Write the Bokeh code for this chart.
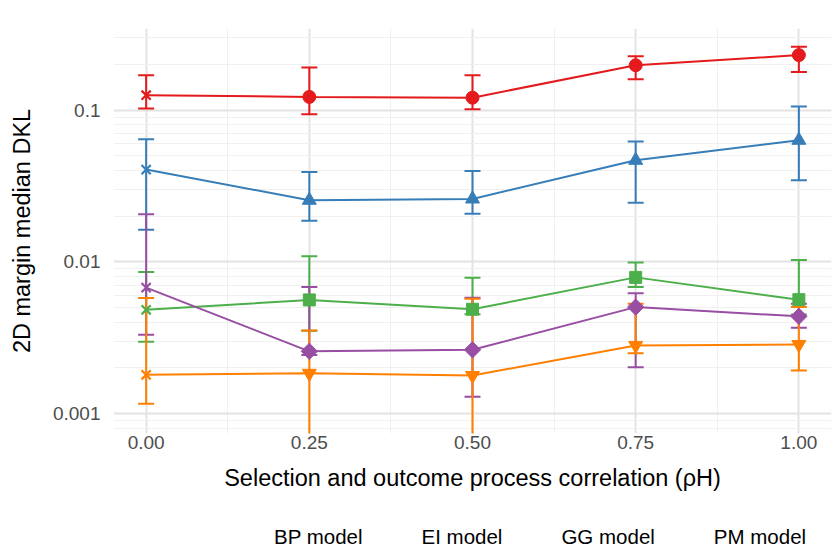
import math
from bokeh.plotting import figure
from bokeh.layouts import column
from bokeh.models import Range1d, FixedTicker, Legend, LegendItem, ColumnDataSource
from bokeh.embed import file_html
from bokeh.resources import INLINE

# ---------------- data ----------------
rho = [0.00, 0.25, 0.50, 0.75, 1.00]
x_tick_labels = ["0.00", "0.25", "0.50", "0.75", "1.00"]
y_ticks = [0.001, 0.01, 0.1]
y_tick_labels = ["0.001", "0.01", "0.1"]

series_names = ["BP model", "EI model", "GG model", "PM model", "FS model"]

bp_med = [0.1256, 0.1224, 0.1210, 0.198, 0.231]
bp_lo = [0.1026, 0.0940, 0.1015, 0.160, 0.179]
bp_hi = [0.170, 0.191, 0.170, 0.227, 0.262]

ei_med = [0.0406, 0.0255, 0.0260, 0.0468, 0.0634]
ei_lo = [0.0163, 0.0187, 0.0208, 0.0245, 0.0345]
ei_hi = [0.0644, 0.0392, 0.0398, 0.0621, 0.106]

gg_med = [0.00483, 0.00561, 0.00487, 0.00790, 0.00563]
gg_lo = [0.00297, 0.00351, 0.00452, 0.00682, 0.00450]
gg_hi = [0.00857, 0.01090, 0.00787, 0.00990, 0.01030]

pm_med = [0.00676, 0.00257, 0.00263, 0.00503, 0.00437]
pm_lo = [0.00331, 0.00243, 0.00129, 0.00202, 0.00368]
pm_hi = [0.0206, 0.00682, 0.00580, 0.00620, 0.00530]

fs_med = [0.00180, 0.00184, 0.00178, 0.00281, 0.00285]
fs_lo = [0.00116, 0.0005, 0.0005, 0.00250, 0.00192]  # 0.25/0.50 run below the visible range
fs_hi = [0.00577, 0.00353, 0.00572, 0.00530, 0.00503]

medians = [bp_med, ei_med, gg_med, pm_med, fs_med]
lowers = [bp_lo, ei_lo, gg_lo, pm_lo, fs_lo]
uppers = [bp_hi, ei_hi, gg_hi, pm_hi, fs_hi]

colors = ["#E41A1C", "#377EB8", "#4DAF4A", "#984EA3", "#FF7F00"]
markers = ["circle", "triangle", "square", "square", "inverted_triangle"]
marker_sizes = [13, 14, 12, 11.5, 14]
marker_angles = [0, 0, 0, math.pi / 4, 0]

# ---------------- layout ----------------
W = 838
MAIN_H, LEG_H = 505, 45
FONT = "Liberation Sans"
TICK_FS = "19px"
TITLE_FS = "23.5px"
LEG_FS = "20.5px"

p = figure(width=W, height=MAIN_H, x_range=Range1d(-0.05, 1.05),
           y_range=Range1d(10 ** -3.132, 10 ** -0.461), y_axis_type="log",
           output_backend="svg", toolbar_location=None,
           min_border_left=113, min_border_right=7,
           min_border_top=28, min_border_bottom=MAIN_H - 433)
p.outline_line_color = None
p.background_fill_color = "white"

y_minor = [m * 10 ** k for k in range(-4, 0) for m in range(2, 10)]
p.yaxis.ticker = FixedTicker(ticks=y_ticks, minor_ticks=y_minor)
p.xaxis.ticker = FixedTicker(ticks=rho, minor_ticks=[0.125, 0.375, 0.625, 0.875])
p.yaxis.major_label_overrides = {t: l for t, l in zip(y_ticks, y_tick_labels)}
p.xaxis.major_label_overrides = {t: l for t, l in zip(rho, x_tick_labels)}

for ax in (p.xaxis, p.yaxis):
    ax.axis_line_color = None
    ax.major_tick_line_color = None
    ax.minor_tick_line_color = None
    ax.major_tick_out = 0
    ax.minor_tick_out = 0
    ax.major_tick_in = 0
    ax.minor_tick_in = 0
    ax.major_label_text_font = FONT
    ax.major_label_text_font_size = TICK_FS
    ax.major_label_text_color = "#4d4d4d"
    ax.axis_label_text_font = FONT
    ax.axis_label_text_font_size = TITLE_FS
    ax.axis_label_text_font_style = "normal"
    ax.axis_label_text_color = "black"
p.yaxis.major_label_standoff = 13
p.xaxis.major_label_standoff = 2
p.xaxis.axis_label = "Selection and outcome process correlation (ρH)"
p.yaxis.axis_label = "2D margin median DKL"
p.xaxis.axis_label_standoff = 13
p.yaxis.axis_label_standoff = 15

for g in (p.xgrid, p.ygrid):
    g.grid_line_color = "#e3e3e3"
    g.grid_line_width = 2
    g.minor_grid_line_color = "#f0f0f0"
    g.minor_grid_line_width = 1

# ---------------- marks ----------------
for i in range(5):
    src = ColumnDataSource(dict(x=rho, lo=lowers[i], hi=uppers[i]))
    p.segment(x0="x", y0="lo", x1="x", y1="hi", source=src,
              line_color=colors[i], line_width=2)
    p.scatter(x="x", y="lo", source=src, marker="dash", size=16,
              line_color=colors[i], line_width=2)
    p.scatter(x="x", y="hi", source=src, marker="dash", size=16,
              line_color=colors[i], line_width=2)

for i in range(5):
    p.line(rho, medians[i], line_color=colors[i], line_width=2)

for i in range(5):
    p.scatter(rho[1:], medians[i][1:], marker=markers[i], size=marker_sizes[i],
              angle=marker_angles[i], fill_color=colors[i], line_color=colors[i])
    p.scatter(rho[:1], medians[i][:1], marker="x", size=13,
              line_color=colors[i], line_width=2.2)

# ---------------- legend strip below the chart ----------------
q = figure(width=W, height=LEG_H, x_range=Range1d(0, 1), y_range=Range1d(0, 1),
           x_axis_location=None, y_axis_location=None,
           output_backend="svg", toolbar_location=None,
           min_border_left=0, min_border_right=0, min_border_top=0, min_border_bottom=0)
q.outline_line_color = None
q.grid.visible = False

items = []
for i in range(5):
    lr = q.line([], [], line_color=colors[i], line_width=2)
    sr = q.scatter([], [], marker=markers[i], size=marker_sizes[i], angle=marker_angles[i],
                   fill_color=colors[i], line_color=colors[i])
    items.append(LegendItem(label=series_names[i], renderers=[lr, sr]))

legend = Legend(items=items, orientation="horizontal", location=(118, 1),
                glyph_width=37, glyph_height=24, label_standoff=6, spacing=16,
                padding=0, margin=0, border_line_color=None,
                background_fill_alpha=0,
                label_text_font=FONT, label_text_font_size=LEG_FS,
                label_text_color="black")
q.add_layout(legend)

layout = column(p, q, spacing=0)
open("out.html", "w").write(file_html(layout, INLINE))
